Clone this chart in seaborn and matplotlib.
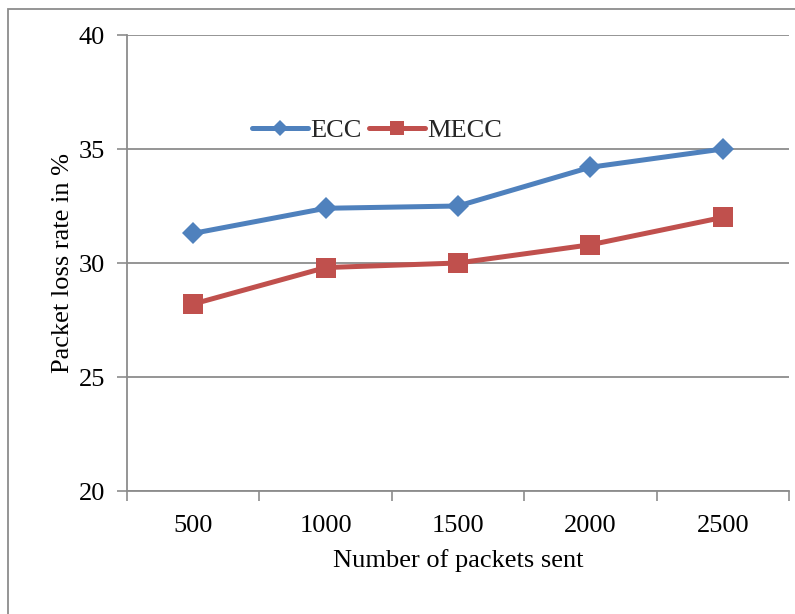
import matplotlib
matplotlib.use("Agg")
import matplotlib.pyplot as plt
from matplotlib.patches import Rectangle
from matplotlib.ticker import FixedLocator
import seaborn as sns
import pandas as pd

packets = ["500", "1000", "1500", "2000", "2500"]
ecc = [31.3, 32.4, 32.5, 34.2, 35.0]
mecc = [28.2, 29.8, 30.0, 30.8, 32.0]
series_names = ["ECC", "MECC"]
y_ticks = [20, 25, 30, 35, 40]

df = pd.DataFrame({
    "packets": packets * 2,
    "loss": ecc + mecc,
    "scheme": [series_names[0]] * len(packets) + [series_names[1]] * len(packets),
})

sns.set_theme(style="white")
plt.rcParams["font.family"] = ["Liberation Serif", "DejaVu Serif"]

fs = 19
fig = plt.figure(figsize=(7.95, 6.14), dpi=100)
ax = fig.add_axes([127 / 795, 1 - 491 / 614, 662 / 795, 456 / 614])

grey = "#8c8c8c"
colors = {"ECC": "#4F81BD", "MECC": "#C0504D"}

sns.pointplot(data=df, x="packets", y="loss", hue="scheme", order=packets,
              hue_order=series_names, palette=colors, markers=["D", "s"],
              linestyles=["-", "-"], ax=ax, errorbar=None, legend=False)

marker_sizes = {"D": 11, "s": 14}
for line in ax.lines:
    line.set_linewidth(3.6)
    m = line.get_marker()
    if m in marker_sizes:
        line.set_markersize(marker_sizes[m])
    line.set_markeredgewidth(0)
for coll in list(ax.collections):
    coll.remove()

ax.set_ylim(20, 40)
ax.set_xlim(-0.5, len(packets) - 0.5)
ax.set_yticks(y_ticks)
ax.set_yticklabels([str(v) for v in y_ticks])
ax.xaxis.set_minor_locator(FixedLocator([i - 0.5 for i in range(len(packets) + 1)]))
ax.tick_params(axis="x", which="major", length=0, pad=17, labelsize=fs, colors="black")
ax.tick_params(axis="x", which="minor", bottom=True, length=7, width=1.2, color=grey,
               direction="out")
ax.tick_params(axis="y", which="major", left=True, length=7, width=1.2, color=grey,
               direction="out", pad=9, labelsize=fs, labelcolor="black")

ax.grid(axis="y", color=grey, linewidth=1.3)
ax.grid(axis="x", visible=False)
ax.set_axisbelow(True)

for side in ["top", "right"]:
    ax.spines[side].set_visible(False)
for side in ["left", "bottom"]:
    ax.spines[side].set_color(grey)
    ax.spines[side].set_linewidth(1.3)

ax.set_xlabel("Number of packets sent", fontsize=fs, color="black", labelpad=9)
ax.set_ylabel("Packet loss rate in %", fontsize=fs, color="black", labelpad=3)

handles = [
    plt.Line2D([], [], color=colors["ECC"], lw=3.6, marker="D", markersize=8, mew=0),
    plt.Line2D([], [], color=colors["MECC"], lw=3.6, marker="s", markersize=10, mew=0),
]
ax.legend(handles, series_names, loc="center", bbox_to_anchor=(0.378, 0.79), ncol=2,
          frameon=False, fontsize=fs, handlelength=2.1, handletextpad=0.1,
          columnspacing=0.3, borderpad=0)

fig.patches.append(Rectangle((8 / 795, -0.1), 1.2, 1.1 - 9 / 614, transform=fig.transFigure,
                             fill=False, edgecolor=grey, linewidth=1.3))

fig.savefig("out.png", dpi=100, facecolor="white")
